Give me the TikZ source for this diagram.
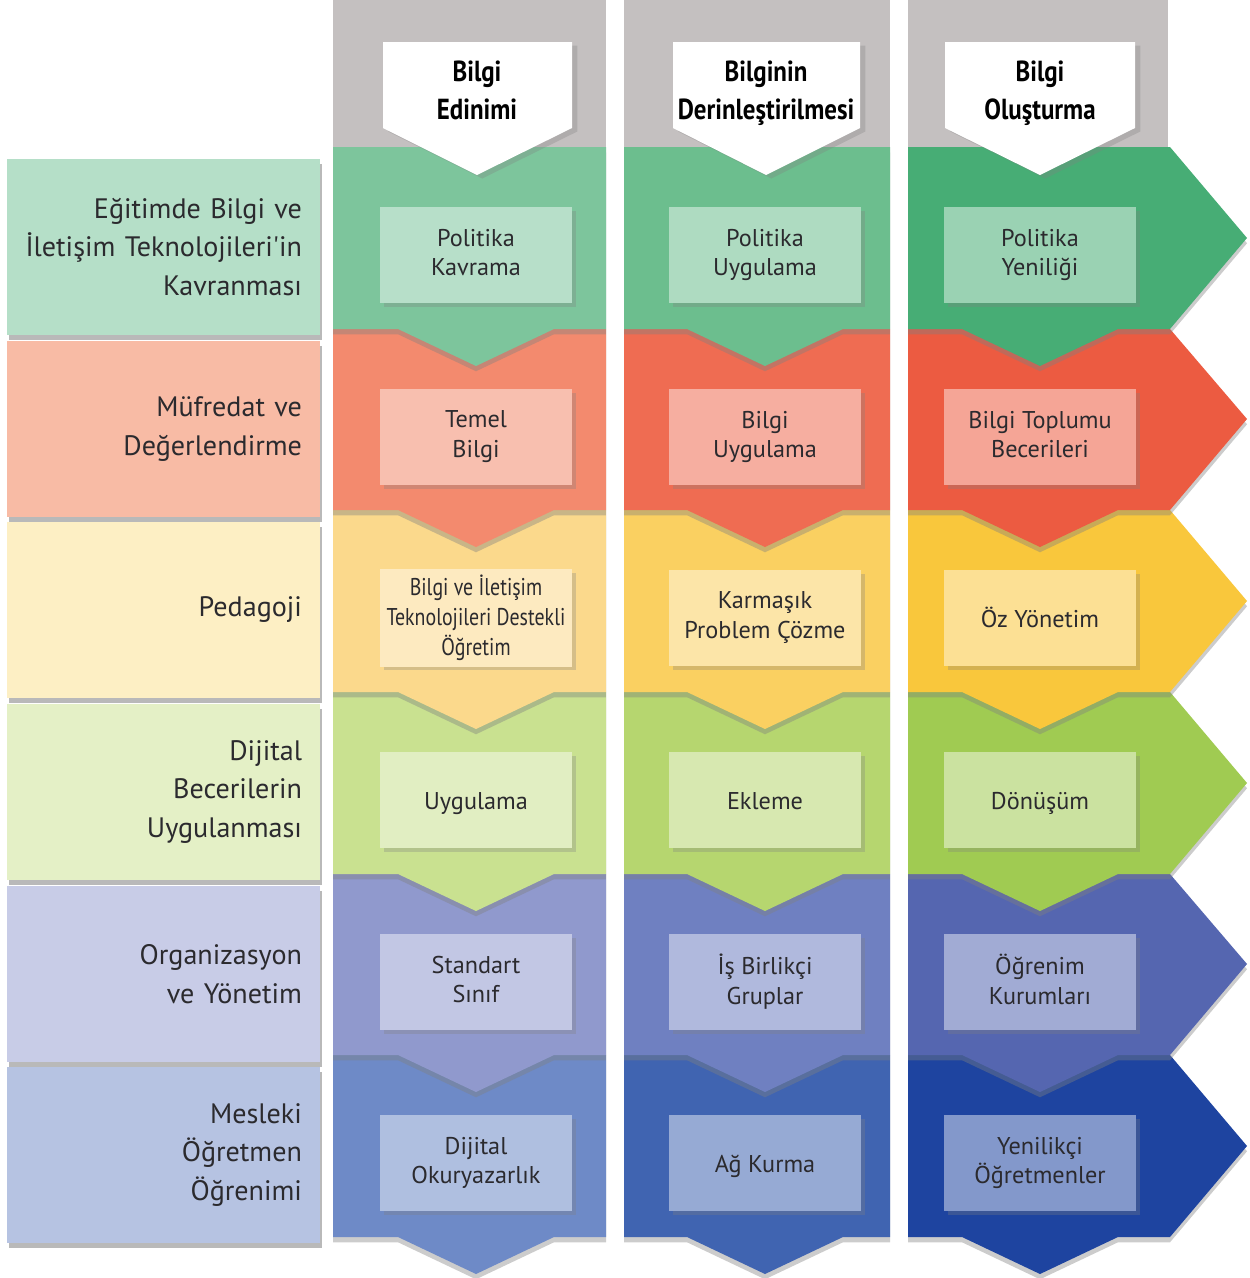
\documentclass[tikz,border=0pt]{standalone}
\usepackage{fontspec}
\setmainfont{PT Sans}
\newfontfamily\headfont{PT Sans}[FakeStretch=0.86]
\newfontfamily\narrowfont{PT Sans}[FakeStretch=0.82]
\usetikzlibrary{shadows}
\newcommand\boxtopstrut{\rule{0pt}{14pt}}
\newcommand\boxbotstrut{\rule[-3pt]{0pt}{0pt}}

\definecolor{hdgray}{HTML}{C4C0C0}
\definecolor{txtgray}{HTML}{2B2A2E}
\definecolor{gA}{HTML}{7DC59C}
\definecolor{gB}{HTML}{6CBE8E}
\definecolor{gC}{HTML}{47AD75}
\definecolor{gL}{HTML}{B5DFC8}
\definecolor{rA}{HTML}{F38A6E}
\definecolor{rB}{HTML}{EF6C52}
\definecolor{rC}{HTML}{EC5B41}
\definecolor{rL}{HTML}{F8BBA5}
\definecolor{yA}{HTML}{FBD98C}
\definecolor{yB}{HTML}{FAD061}
\definecolor{yC}{HTML}{F9C73C}
\definecolor{yL}{HTML}{FDEFC4}
\definecolor{lA}{HTML}{C9E190}
\definecolor{lB}{HTML}{B6D66F}
\definecolor{lC}{HTML}{A0CB52}
\definecolor{lL}{HTML}{E4F0C6}
\definecolor{vA}{HTML}{9099CD}
\definecolor{vB}{HTML}{6F80C1}
\definecolor{vC}{HTML}{5566B0}
\definecolor{vL}{HTML}{C8CCE7}
\definecolor{bA}{HTML}{6E8AC7}
\definecolor{bB}{HTML}{4064B1}
\definecolor{bC}{HTML}{1E44A0}
\definecolor{bL}{HTML}{B6C3E2}

\begin{document}
\begin{tikzpicture}[x=0.02cm, y=-0.02cm]
\tikzstyle{cellshadow}=[drop shadow={shadow xshift=0pt, shadow yshift=-3pt, opacity=.4}]
\tikzstyle{rowlabel}=[rectangle, minimum width=6.26cm, minimum height=3.52cm, inner xsep=0.36cm, text width=5.54cm, align=right, font=\fontsize{16}{22}\selectfont, text=txtgray, drop shadow={shadow xshift=1pt, shadow yshift=-3pt, opacity=.55}]
\tikzstyle{inbox}=[rectangle, minimum width=3.84cm, minimum height=1.92cm, align=center, font=\fontsize{13.8}{17}\selectfont, text=txtgray, execute at begin node=\boxtopstrut, execute at end node=\boxbotstrut, drop shadow={shadow xshift=2pt, shadow yshift=-2pt, opacity=.3}]
\tikzstyle{headtext}=[align=center, font=\headfont\bfseries\fontsize{16.5}{21.5}\selectfont, text=black, execute at begin node=\strut, execute at end node=\strut]
\fill[white] (0,0) rectangle (1250,1278);
\useasboundingbox (0,0) rectangle (1250,1278);

% gray header columns
\fill[hdgray] (333,0) rectangle (606,147);
\fill[hdgray] (624,0) rectangle (890,147);
\fill[hdgray] (908,0) rectangle (1168,147);

% row 6
\fill[bA, cellshadow] (333,1055) -- (606,1055) -- (606,1237) -- (554,1237) -- (476,1274) -- (398,1237) -- (333,1237) -- cycle;
\fill[bB, cellshadow] (624,1055) -- (890,1055) -- (890,1237) -- (843,1237) -- (765,1274) -- (687,1237) -- (624,1237) -- cycle;
\fill[bC, cellshadow] (908,1055) -- (1170,1055) -- (1247,1146) -- (1170,1237) -- (1118,1237) -- (1040,1274) -- (962,1237) -- (908,1237) -- cycle;
% row 5
\fill[vA, cellshadow] (333,874) -- (606,874) -- (606,1055) -- (554,1055) -- (476,1092) -- (398,1055) -- (333,1055) -- cycle;
\fill[vB, cellshadow] (624,874) -- (890,874) -- (890,1055) -- (843,1055) -- (765,1092) -- (687,1055) -- (624,1055) -- cycle;
\fill[vC, cellshadow] (908,874) -- (1170,874) -- (1247,964) -- (1170,1055) -- (1118,1055) -- (1040,1092) -- (962,1055) -- (908,1055) -- cycle;
% row 4
\fill[lA, cellshadow] (333,692) -- (606,692) -- (606,874) -- (554,874) -- (476,911) -- (398,874) -- (333,874) -- cycle;
\fill[lB, cellshadow] (624,692) -- (890,692) -- (890,874) -- (843,874) -- (765,911) -- (687,874) -- (624,874) -- cycle;
\fill[lC, cellshadow] (908,692) -- (1170,692) -- (1247,783) -- (1170,874) -- (1118,874) -- (1040,911) -- (962,874) -- (908,874) -- cycle;
% row 3
\fill[yA, cellshadow] (333,510) -- (606,510) -- (606,692) -- (554,692) -- (476,729) -- (398,692) -- (333,692) -- cycle;
\fill[yB, cellshadow] (624,510) -- (890,510) -- (890,692) -- (843,692) -- (765,729) -- (687,692) -- (624,692) -- cycle;
\fill[yC, cellshadow] (908,510) -- (1170,510) -- (1247,601) -- (1170,692) -- (1118,692) -- (1040,729) -- (962,692) -- (908,692) -- cycle;
% row 2
\fill[rA, cellshadow] (333,329) -- (606,329) -- (606,510) -- (554,510) -- (476,547) -- (398,510) -- (333,510) -- cycle;
\fill[rB, cellshadow] (624,329) -- (890,329) -- (890,510) -- (843,510) -- (765,547) -- (687,510) -- (624,510) -- cycle;
\fill[rC, cellshadow] (908,329) -- (1170,329) -- (1247,419) -- (1170,510) -- (1118,510) -- (1040,547) -- (962,510) -- (908,510) -- cycle;
% row 1
\fill[gA, cellshadow] (333,147) -- (606,147) -- (606,329) -- (554,329) -- (476,366) -- (398,329) -- (333,329) -- cycle;
\fill[gB, cellshadow] (624,147) -- (890,147) -- (890,329) -- (843,329) -- (765,366) -- (687,329) -- (624,329) -- cycle;
\fill[gC, cellshadow] (908,147) -- (1170,147) -- (1247,238) -- (1170,329) -- (1118,329) -- (1040,366) -- (962,329) -- (908,329) -- cycle;

% header arrows
\fill[white, drop shadow={shadow xshift=3pt, shadow yshift=-2pt, opacity=.3}] (383,42) -- (572,42) -- (572,128) -- (477,175) -- (383,128) -- cycle;
\fill[white, drop shadow={shadow xshift=3pt, shadow yshift=-2pt, opacity=.3}] (673,42) -- (860,42) -- (860,128) -- (766,175) -- (673,128) -- cycle;
\fill[white, drop shadow={shadow xshift=3pt, shadow yshift=-2pt, opacity=.3}] (945,42) -- (1135,42) -- (1135,128) -- (1040,175) -- (945,128) -- cycle;
\node[headtext] (h1) at (477,96) {Bilgi\\Edinimi};
\node[headtext] (h2) at (766,96) {Bilginin\\Derinleştirilmesi};
\node[headtext] (h3) at (1040,96) {Bilgi\\Oluşturma};

% row labels
\node[rowlabel, fill=bL] (l6) at (163.5,1155) {Mesleki\\Öğretmen\\Öğrenimi};
\node[rowlabel, fill=vL] (l5) at (163.5,974) {Organizasyon\\ve Yönetim};
\node[rowlabel, fill=lL] (l4) at (163.5,792) {Dijital\\Becerilerin\\Uygulanması};
\node[rowlabel, fill=yL] (l3) at (163.5,610) {Pedagoji};
\node[rowlabel, fill=rL] (l2) at (163.5,429) {Müfredat ve\\Değerlendirme};
\node[rowlabel, fill=gL] (l1) at (163.5,247) {Eğitimde Bilgi ve\\İletişim Teknolojileri\textquotesingle in\\Kavranması};

% inner boxes
\node[inbox, fill=gA!55!white] (a1) at (476,255) {Politika\\Kavrama};
\node[inbox, fill=gB!55!white] (b1) at (765,255) {Politika\\Uygulama};
\node[inbox, fill=gC!55!white] (c1) at (1040,255) {Politika\\Yeniliği};
\node[inbox, fill=rA!55!white] (a2) at (476,437) {Temel\\Bilgi};
\node[inbox, fill=rB!55!white] (b2) at (765,437) {Bilgi\\Uygulama};
\node[inbox, fill=rC!55!white] (c2) at (1040,437) {Bilgi Toplumu\\Becerileri};
\node[inbox, fill=yA!55!white, font=\narrowfont\fontsize{13.8}{17}\selectfont] (a3) at (476,618) {Bilgi ve İletişim\\Teknolojileri Destekli\\Öğretim};
\node[inbox, fill=yB!55!white] (b3) at (765,618) {Karmaşık\\Problem Çözme};
\node[inbox, fill=yC!55!white] (c3) at (1040,618) {Öz Yönetim};
\node[inbox, fill=lA!55!white] (a4) at (476,800) {Uygulama};
\node[inbox, fill=lB!55!white] (b4) at (765,800) {Ekleme};
\node[inbox, fill=lC!55!white] (c4) at (1040,800) {Dönüşüm};
\node[inbox, fill=vA!55!white] (a5) at (476,982) {Standart\\Sınıf};
\node[inbox, fill=vB!55!white] (b5) at (765,982) {İş Birlikçi\\Gruplar};
\node[inbox, fill=vC!55!white] (c5) at (1040,982) {Öğrenim\\Kurumları};
\node[inbox, fill=bA!55!white] (a6) at (476,1163) {Dijital\\Okuryazarlık};
\node[inbox, fill=bB!55!white] (b6) at (765,1163) {Ağ Kurma};
\node[inbox, fill=bC!55!white] (c6) at (1040,1163) {Yenilikçi\\Öğretmenler};
\end{tikzpicture}
\end{document}
